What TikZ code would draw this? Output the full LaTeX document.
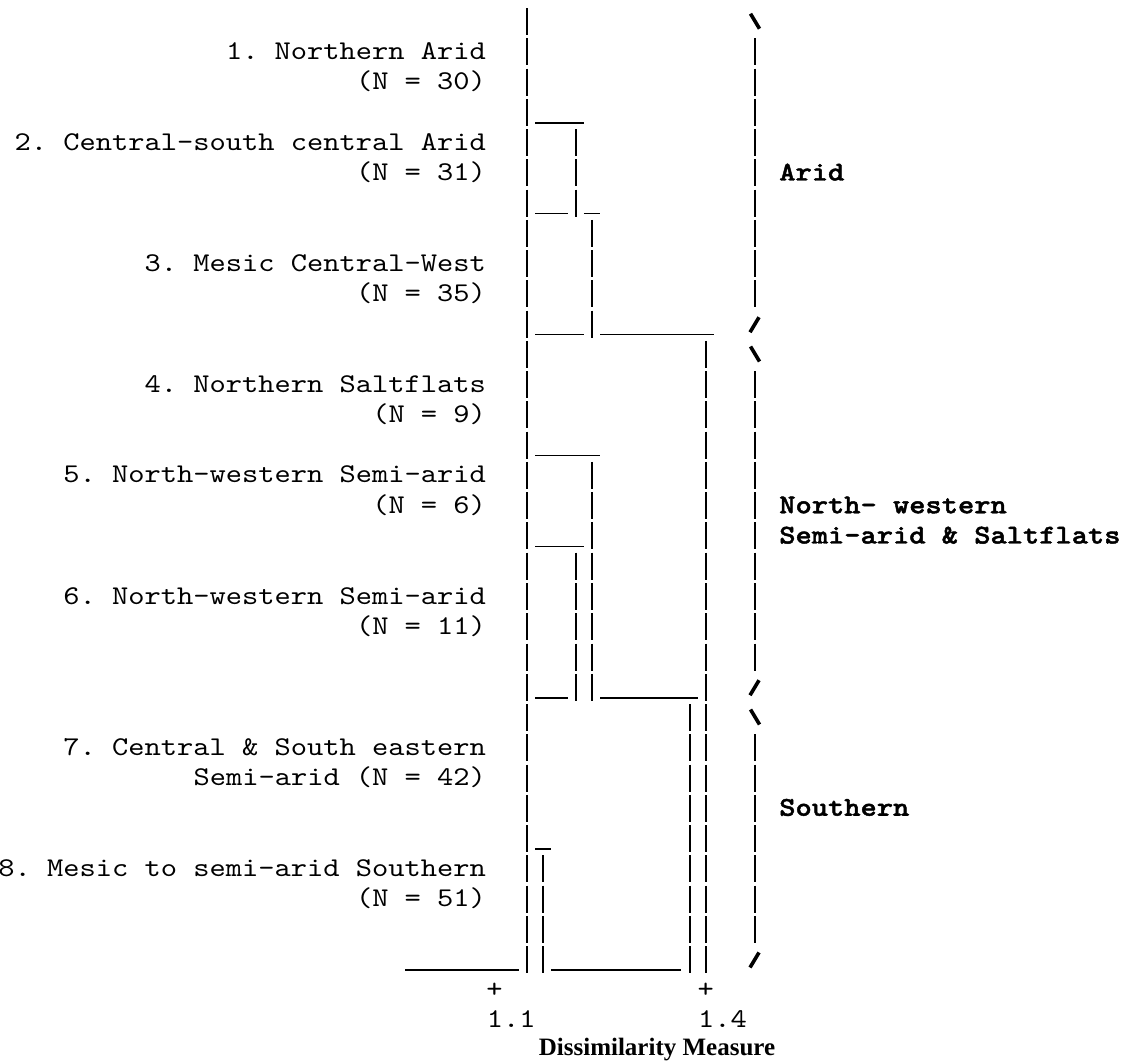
\documentclass[tikz,border=0pt]{standalone}
\usepackage{fontspec}
\setmainfont{Liberation Serif}
\setmonofont{lmmono10-regular.otf}[BoldFont=lmmonolt10-bold.otf, BoldFeatures={FakeBold=1.6}, FakeStretch=1.143]
\newcommand{\dvbar}[3]{\foreach \r in {#2,...,#3}{\draw[barline] ({527+(#1)*16.25},{21.75+\r*30.25-13.5}) -- ++(0,27);}}
\newcommand{\dubar}[3]{\draw[uline] ({527+(#2-0.5)*16.25},{21.75+(#1)*30.25+10.5}) -- ({527+(#3+0.5)*16.25},{21.75+(#1)*30.25+10.5});}
\newcommand{\dbslash}[1]{\draw[slashline] ({527+14*16.25-4},{21.75+(#1)*30.25-8}) -- ({527+14*16.25+5},{21.75+(#1)*30.25+7});}
\newcommand{\dfslash}[1]{\draw[slashline] ({527+14*16.25-4.5},{21.75+(#1)*30.25+8}) -- ({527+14*16.25+4.5},{21.75+(#1)*30.25-7});}
\tikzset{
  barline/.style={line width=1pt},
  uline/.style={line width=0.75pt},
  slashline/.style={line width=1.8pt},
  lab/.style={font=\ttfamily\fontsize{13.54}{16}\selectfont, inner sep=0pt, anchor=base east},
  axl/.style={font=\ttfamily\fontsize{13.54}{16}\selectfont, inner sep=0pt, anchor=base west},
  grp/.style={font=\ttfamily\bfseries\fontsize{13.54}{16}\selectfont, inner sep=0pt, anchor=base west},
}
\begin{document}
\begin{tikzpicture}[x=0.5pt,y=-0.5pt]
\useasboundingbox[fill=white] (0,0) rectangle (1126,1064);
% vertical bars of the dendrogram
\dvbar{0}{0}{31}
\dvbar{1}{28}{31}
\dvbar{3}{4}{6}
\dvbar{3}{18}{22}
\dvbar{4}{7}{10}
\dvbar{4}{15}{22}
\dvbar{10}{23}{31}
\dvbar{11}{11}{31}
% group brackets
\dvbar{14}{1}{9}
\dvbar{14}{12}{21}
\dvbar{14}{24}{30}
\dbslash{0}\dfslash{10}
\dbslash{11}\dfslash{22}
\dbslash{23}\dfslash{31}
% horizontal joins
\dubar{3}{1}{3}
\dubar{6}{1}{2}\dubar{6}{4}{4}
\dubar{10}{1}{3}\dubar{10}{5}{11}
\dubar{14}{1}{4}
\dubar{17}{1}{3}
\dubar{22}{1}{2}\dubar{22}{5}{10}
\dubar{27}{1}{1}
\dubar{31}{-7}{-1}\dubar{31}{2}{9}
% leaf labels
\node[lab] (l1a) at (486.4,{21.75+1*30.25+7.5}) {1. Northern Arid};
\node[lab] (l1b) at (486.4,{21.75+2*30.25+7.5}) {(N = 30)};
\node[lab] (l2a) at (486.4,{21.75+4*30.25+7.5}) {2. Central-south central Arid};
\node[lab] (l2b) at (486.4,{21.75+5*30.25+7.5}) {(N = 31)};
\node[lab] (l3a) at (486.4,{21.75+8*30.25+7.5}) {3. Mesic Central-West};
\node[lab] (l3b) at (486.4,{21.75+9*30.25+7.5}) {(N = 35)};
\node[lab] (l4a) at (486.4,{21.75+12*30.25+7.5}) {4. Northern Saltflats};
\node[lab] (l4b) at (486.4,{21.75+13*30.25+7.5}) {(N = 9)};
\node[lab] (l5a) at (486.4,{21.75+15*30.25+7.5}) {5. North-western Semi-arid};
\node[lab] (l5b) at (486.4,{21.75+16*30.25+7.5}) {(N = 6)};
\node[lab] (l6a) at (486.4,{21.75+19*30.25+7.5}) {6. North-western Semi-arid};
\node[lab] (l6b) at (486.4,{21.75+20*30.25+7.5}) {(N = 11)};
\node[lab] (l7a) at (486.4,{21.75+24*30.25+7.5}) {7. Central \& South eastern};
\node[lab] (l7b) at (486.4,{21.75+25*30.25+7.5}) {Semi-arid (N = 42)};
\node[lab] (l8a) at (486.4,{21.75+28*30.25+7.5}) {8. Mesic to semi-arid Southern};
\node[lab] (l8b) at (486.4,{21.75+29*30.25+7.5}) {(N = 51)};
% group labels
\node[grp] (g1) at (778.9,{21.75+5*30.25+7.5}) {Arid};
\node[grp] (g2a) at (778.9,{21.75+16*30.25+7.5}) {North- western};
\node[grp] (g2b) at (778.9,{21.75+17*30.25+7.5}) {Semi-arid \& Saltflats};
\node[grp] (g3) at (778.9,{21.75+26*30.25+7.5}) {Southern};
% axis
\node[axl, anchor=base] (t1) at ({527-2*16.25},{21.75+32*30.25+7.5}) {+};
\node[axl, anchor=base] (t2) at ({527+11*16.25},{21.75+32*30.25+7.5}) {+};
\node[axl] (v1) at ({527-2.5*16.25},{21.75+33*30.25+7.5}) {1.1};
\node[axl] (v2) at ({527+10.5*16.25},{21.75+33*30.25+7.5}) {1.4};
\node[inner sep=0pt, anchor=base, font=\bfseries\fontsize{12.5}{14}\selectfont] (ax) at (657,1055) {Dissimilarity Measure};
\end{tikzpicture}
\end{document}
